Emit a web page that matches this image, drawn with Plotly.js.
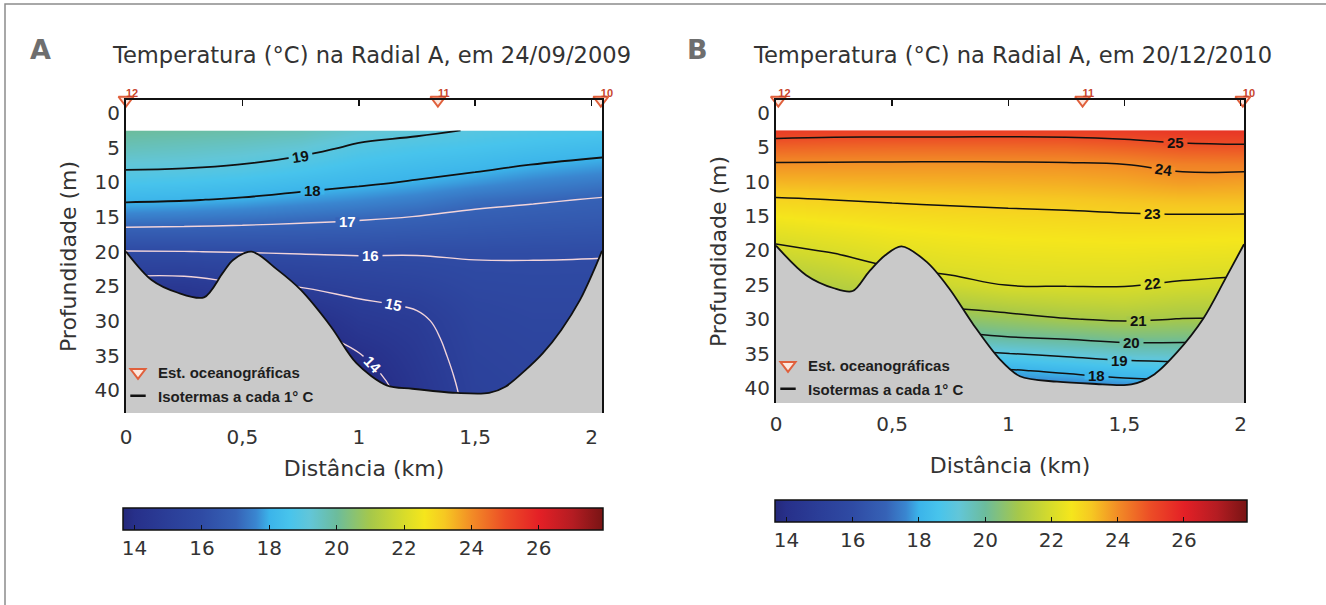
<!DOCTYPE html>
<html><head><meta charset="utf-8">
<script src="https://cdn.plot.ly/plotly-3.0.1.min.js"></script>
<style>html,body{margin:0;padding:0;background:#fff}</style>
</head><body><div id="chart" style="width:1326px;height:605px"></div>
<script>
// ---------------- DATA ----------------
const gridDistKm = [0, 0.25, 0.5, 0.75, 1.0, 1.25, 1.5, 1.75, 2.05];
const gridDepthM = [2.5, 5, 7.5, 10, 12.5, 15, 17.5, 20, 22.5, 25, 27.5, 30, 32.5, 35, 37.5, 40, 43.5];

// Temperature (°C), rows = depth, columns = distance  — panel A, 24/09/2009
const tempA = [
  [20.0, 19.9, 19.8, 19.65, 19.3, 19.15, 18.95, 18.8, 18.7],
  [19.6, 19.5, 19.39, 19.23, 18.88, 18.7, 18.57, 18.42, 18.25],
  [19.14, 19.1, 18.98, 18.75, 18.49, 18.32, 18.18, 17.98, 17.8],
  [18.64, 18.57, 18.46, 18.28, 18.11, 17.94, 17.74, 17.54, 17.36],
  [18.1, 18.04, 17.93, 17.77, 17.63, 17.46, 17.21, 17.09, 16.94],
  [17.43, 17.38, 17.3, 17.2, 17.1, 16.98, 16.83, 16.73, 16.65],
  [16.7, 16.69, 16.67, 16.64, 16.6, 16.53, 16.47, 16.4, 16.35],
  [15.97, 15.99, 16.03, 16.07, 16.1, 16.07, 16.09, 16.08, 16.06],
  [15.3, 15.29, 15.45, 15.54, 15.67, 15.75, 15.9, 15.92, 15.9],
  [14.6, 14.6, 14.9, 15.02, 15.26, 15.43, 15.75, 15.8, 15.8],
  [14.05, 14.1, 14.4, 14.45, 14.9, 15.1, 15.6, 15.7, 15.7],
  [13.5, 13.7, 14.03, 13.9, 14.62, 14.85, 15.5, 15.62, 15.62],
  [13.2, 13.4, 13.7, 13.6, 14.3, 14.72, 15.42, 15.55, 15.55],
  [13.03, 13.2, 13.5, 13.4, 13.95, 14.62, 15.36, 15.5, 15.5],
  [12.9, 13.03, 13.3, 13.2, 13.7, 14.52, 15.3, 15.45, 15.45],
  [12.8, 12.9, 13.1, 13.1, 13.45, 14.42, 15.25, 15.4, 15.4],
  [12.7, 12.8, 13.03, 13.03, 13.2, 14.3, 15.2, 15.35, 15.35]
];

// Temperature (°C) — panel B, 20/12/2010
const tempB = [
  [25.35, 25.3, 25.3, 25.3, 25.28, 25.3, 25.35, 25.45, 25.5],
  [24.62, 24.57, 24.54, 24.53, 24.54, 24.56, 24.68, 24.84, 24.89],
  [23.92, 23.91, 23.9, 23.89, 23.9, 23.92, 23.99, 24.16, 24.19],
  [23.43, 23.46, 23.48, 23.5, 23.52, 23.55, 23.63, 23.78, 23.71],
  [22.96, 23.02, 23.07, 23.11, 23.15, 23.19, 23.26, 23.32, 23.32],
  [22.6, 22.7, 22.78, 22.83, 22.87, 22.9, 22.94, 22.96, 22.95],
  [22.23, 22.38, 22.52, 22.6, 22.66, 22.68, 22.71, 22.71, 22.68],
  [21.86, 22.06, 22.26, 22.38, 22.44, 22.47, 22.49, 22.46, 22.42],
  [21.47, 21.69, 21.99, 22.15, 22.23, 22.26, 22.27, 22.21, 22.16],
  [21.08, 21.31, 21.55, 21.8, 22.02, 22.04, 22.04, 21.93, 21.83],
  [20.6, 20.88, 21.09, 21.23, 21.43, 21.55, 21.61, 21.46, 21.4],
  [19.99, 20.25, 20.43, 20.57, 20.76, 20.97, 21.08, 20.98, 20.97],
  [19.17, 19.5, 19.6, 19.8, 20.03, 20.16, 20.32, 20.29, 20.27],
  [18.33, 18.67, 18.6, 18.78, 18.99, 19.2, 19.42, 19.48, 19.48],
  [17.8, 17.9, 17.9, 17.85, 17.92, 18.13, 18.36, 18.48, 18.48],
  [17.5, 17.6, 17.6, 17.5, 17.4, 17.35, 17.5, 17.6, 17.6],
  [17.2, 17.3, 17.3, 17.2, 17.2, 17.2, 17.2, 17.3, 17.3]
];

// Sea-floor profile (depth in m along the section)
const bathyDistA  = [0, 0.11, 0.22, 0.335, 0.415, 0.46, 0.54, 0.65, 0.75, 0.88, 0.99, 1.12, 1.23, 1.42, 1.56, 1.63, 1.71, 1.79, 1.87, 1.95, 2.01, 2.045];
const bathyDepthA = [20, 24.1, 25.9, 26.6, 23.1, 21.2, 20, 22.6, 25.5, 30.8, 36.1, 39.3, 39.8, 40.4, 40.4, 39.5, 37.3, 34.7, 31.3, 27, 22.7, 19.9];
const bathyDistB  = [0, 0.13, 0.25, 0.33, 0.40, 0.47, 0.54, 0.65, 0.745, 0.85, 0.96, 1.05, 1.21, 1.36, 1.53, 1.63, 1.73, 1.84, 1.935, 2.015];
const bathyDepthB = [19.3, 23.6, 25.5, 25.9, 23.1, 20.7, 19.4, 21.7, 25.5, 30.8, 35.7, 38.3, 39.1, 39.4, 39.5, 38.0, 34.7, 29.9, 24.1, 19.1];

// Oceanographic stations
const stationNames = ['12', '11', '10'];
const stationKmA = [0, 1.34, 2.04];
const stationKmB = [0.01, 1.32, 2.01];

// Isotherm levels that carry a label
const labelLevelsA = [19, 18, 17, 16, 15, 14];
const labelLevelsB = [25, 24, 23, 22, 21, 20, 19, 18];

// Ticks and texts
const distTicks = [0, 0.5, 1, 1.5, 2];
const depthTicks = [0, 5, 10, 15, 20, 25, 30, 35, 40];
const cbTicks = [14, 16, 18, 20, 22, 24, 26];
const titleA = 'Temperatura (°C) na Radial A, em 24/09/2009';
const titleB = 'Temperatura (°C) na Radial A, em 20/12/2010';

// ---------------- STYLE / LAYOUT ----------------
const W = 1326, H = 605;
const zMin = 13.65, zMax = 27.9;
const colorStops = [
  [13.65, '#24287a'], [14.0, '#27308a'], [15.0, '#2b3e98'], [16.0, '#2f4ba4'],
  [17.0, '#3662b6'], [17.6, '#3a86d0'], [18.0, '#3bb4ea'], [18.6, '#48c4ec'],
  [19.2, '#62c6d8'], [20.0, '#6cbc9c'], [21.0, '#a6c84a'], [22.0, '#d8dc2a'],
  [22.6, '#f5e61c'], [23.2, '#f6c822'], [24.0, '#f28c26'], [25.0, '#ec4c26'],
  [26.0, '#e42026'], [27.0, '#b41c22'], [27.9, '#781414']
];
const colorscale = colorStops.map(s => [Math.min(1, Math.max(0, (s[0] - zMin) / (zMax - zMin))), s[1]]);
function hexToRgb(h) { return [1, 3, 5].map(i => parseInt(h.substr(i, 2), 16)); }
function colorAt(v) {
  for (let i = 0; i < colorStops.length - 1; i++) {
    const a = colorStops[i], b = colorStops[i + 1];
    if (v >= a[0] && v <= b[0]) {
      const f = (v - a[0]) / (b[0] - a[0]);
      const ca = hexToRgb(a[1]), cb = hexToRgb(b[1]);
      return 'rgb(' + ca.map((c, k) => Math.round(c + (cb[k] - c) * f)).join(',') + ')';
    }
  }
  return colorStops[colorStops.length - 1][1];
}
// depth at which an isotherm crosses a given distance (linear interpolation in the grid)
function levelDepth(temp, xKm, level) {
  let j = 0;
  while (j < gridDistKm.length - 2 && gridDistKm[j + 1] < xKm) j++;
  const w = (xKm - gridDistKm[j]) / (gridDistKm[j + 1] - gridDistKm[j]);
  const prof = temp.map(r => r[j] * (1 - w) + r[j + 1] * w);
  for (let i = 0; i < prof.length - 1; i++) {
    const a = prof[i] - level, b = prof[i + 1] - level;
    if ((a >= 0 && b < 0) || (a <= 0 && b > 0)) return gridDepthM[i] + a / (a - b) * (gridDepthM[i + 1] - gridDepthM[i]);
  }
  return null;
}

const FONT = 'DejaVu Sans';
const yRangeA = [43.3, -1.9], yRangeB = [42.2, -1.9];
const xRangeA = [0, 2.045], xRangeB = [0, 2.015];
const domXA = [126, 602], domYA = [100, 413];
const domXB = [776, 1244], domYB = [100, 403];

function panel(p) {
  const t = [];
  t.push({type: 'contour', x: gridDistKm, y: gridDepthM, z: p.temp, xaxis: p.xa, yaxis: p.ya,
    zmin: zMin, zmax: zMax, colorscale: colorscale, autocontour: false, showlegend: false,
    contours: {start: 14, end: 26, size: 1, coloring: 'heatmap', showlines: false},
    line: {width: 0}, showscale: true, hoverinfo: 'skip',
    colorbar: {orientation: 'h', x: p.cbX, xanchor: 'center', y: p.cbY, yanchor: 'top',
      len: p.cbLen, lenmode: 'pixels', thickness: 22, thicknessmode: 'pixels',
      outlinecolor: '#111', outlinewidth: 1.5, tickvals: cbTicks, ticks: 'inside', ticklen: 5,
      tickcolor: '#111', tickfont: {family: FONT, size: 20, color: '#333'}, xpad: 0, ypad: 0}
  });
  p.lines.forEach(l => t.push({type: 'contour', x: gridDistKm, y: gridDepthM, z: p.temp, xaxis: p.xa, yaxis: p.ya,
    autocontour: false, showscale: false, showlegend: false, hoverinfo: 'skip',
    contours: {start: l.start, end: l.end, size: 1, coloring: 'none', showlabels: false},
    line: {color: l.color, width: l.width, smoothing: 1.2}
  }));
  const n = p.bx.length;
  t.push({type: 'scatter', mode: 'lines', x: [p.bx[0], p.bx[n - 1]], y: [p.yr[0], p.yr[0]],
    xaxis: p.xa, yaxis: p.ya, line: {width: 0}, showlegend: false, hoverinfo: 'skip'});
  t.push({type: 'scatter', mode: 'lines', x: p.bx, y: p.by, xaxis: p.xa, yaxis: p.ya,
    fill: 'tonexty', fillcolor: '#c9c9c9', line: {color: '#111', width: 1.8, shape: 'spline', smoothing: 0.9},
    showlegend: false, hoverinfo: 'skip'});
  t.push({type: 'scatter', mode: 'markers', x: p.st, y: p.st.map(() => p.yr[1]), xaxis: p.xt, yaxis: p.ya,
    name: 'Est. oceanográficas', legend: p.lg, legendgroup: 'st' + p.lg, cliponaxis: false,
    marker: {symbol: 'triangle-down', size: 13, color: '#fde8df', line: {color: '#e0603c', width: 2}}});
  t.push({type: 'scatter', mode: 'text', x: p.st, y: p.st.map(() => p.yr[1]), xaxis: p.xt, yaxis: p.ya,
    text: stationNames, textposition: 'top right', cliponaxis: false, showlegend: false, hoverinfo: 'skip',
    textfont: {family: 'Liberation Sans', size: 11, color: '#c8452c', weight: 'bold'}});
  t.push({type: 'scatter', mode: 'markers', x: [null], y: [null], xaxis: p.xt, yaxis: p.ya,
    name: 'Isotermas a cada 1° C', legend: p.lg, legendgroup: 'iso' + p.lg,
    marker: {symbol: 'line-ew', size: 11, line: {color: '#111', width: 2.5}}});
  return t;
}

// isotherm labels: a thin mask that cuts the line, then the number on top
function labels(p) {
  const pxKm = (p.dx[1] - p.dx[0]) / (p.xr[1] - p.xr[0]);
  const pxM = (p.dy[1] - p.dy[0]) / (p.yr[0] - p.yr[1]);
  const out = [];
  p.levels.forEach((lv, i) => {
    const km = p.labelKm[i];
    const d = levelDepth(p.temp, km, lv);
    const d1 = levelDepth(p.temp, km - 0.04, lv), d2 = levelDepth(p.temp, km + 0.04, lv);
    let ang = Math.atan2((d2 - d1) * pxM, 0.08 * pxKm) * 180 / Math.PI;
    if (Math.abs(ang) < 6) ang = 0;
    out.push({x: km, y: d, xref: p.xa, yref: p.ya, text: '.', showarrow: false, textangle: ang,
      width: 23, height: 6, bgcolor: colorAt(lv), borderpad: 0, xanchor: 'center', yanchor: 'middle',
      font: {size: 6, color: 'rgba(0,0,0,0)'}});
    out.push({x: km, y: d, xref: p.xa, yref: p.ya, text: String(lv), showarrow: false, textangle: ang,
      borderpad: 0, xanchor: 'center', yanchor: 'middle',
      font: {family: 'Liberation Sans', size: 15, color: lv >= p.whiteBelow ? '#111' : '#ffffff', weight: 'bold'}});
  });
  return out;
}

const data = [].concat(
  panel({temp: tempA, xa: 'x', ya: 'y', xt: 'x3', yr: yRangeA, bx: bathyDistA, by: bathyDepthA, st: stationKmA, lg: 'legend',
    cbX: 362.8 / W, cbY: 1 - 508 / H, cbLen: 480,
    lines: [{start: 18, end: 19, color: '#111', width: 1.8},
            {start: 14, end: 17, color: '#f2d4da', width: 1.4}]}),
  panel({temp: tempB, xa: 'x2', ya: 'y2', xt: 'x4', yr: yRangeB, bx: bathyDistB, by: bathyDepthB, st: stationKmB, lg: 'legend2',
    cbX: 1010.8 / W, cbY: 1 - 500 / H, cbLen: 472,
    lines: [{start: 18, end: 25, color: '#111', width: 1.5}]})
);

function xAxis(dom, rng, std, tstd) {
  return {domain: [dom[0] / W, dom[1] / W], range: rng, tickvals: distTicks, ticks: '', showline: false, showgrid: false, zeroline: false,
    tickfont: {family: FONT, size: 20, color: '#333'}, ticklabelstandoff: std,
    title: {text: 'Distância (km)', font: {family: FONT, size: 22, color: '#333'}, standoff: tstd}};
}
function topAxis(over, anchor, rng) {
  return {overlaying: over, anchor: anchor, side: 'top', range: rng, tickvals: distTicks, ticks: 'inside',
    ticklen: 6, tickwidth: 1.5, tickcolor: '#111', showline: true, linecolor: '#111', linewidth: 2,
    showticklabels: false, showgrid: false, zeroline: false};
}
function yAxis(dom, rng, anchor) {
  return {domain: [1 - dom[1] / H, 1 - dom[0] / H], range: rng, anchor: anchor, tickvals: depthTicks, ticks: '', showline: true, mirror: true,
    linecolor: '#111', linewidth: 2, showgrid: false, zeroline: false,
    tickfont: {family: FONT, size: 20, color: '#333'},
    title: {text: 'Profundidade (m)', font: {family: FONT, size: 22, color: '#333'}, standoff: 12}};
}
const legendStyle = {xanchor: 'left', yanchor: 'top', bgcolor: 'rgba(0,0,0,0)', traceorder: 'grouped',
  tracegroupgap: 1, itemwidth: 30, font: {family: 'Liberation Sans', size: 15, color: '#1e1e1e', weight: 'bold'}};

const annotations = [
  {text: 'A', x: 40 / W, y: 1 - 50 / H, xref: 'paper', yref: 'paper', xanchor: 'center', yanchor: 'middle', showarrow: false,
    font: {family: FONT, size: 27, color: '#6e6e6e', weight: 'bold'}},
  {text: titleA, x: 110 / W, y: 1 - 55 / H, xref: 'paper', yref: 'paper', xanchor: 'left', yanchor: 'middle', showarrow: false,
    font: {family: FONT, size: 22.6, color: '#333'}},
  {text: 'B', x: 697 / W, y: 1 - 50 / H, xref: 'paper', yref: 'paper', xanchor: 'center', yanchor: 'middle', showarrow: false,
    font: {family: FONT, size: 27, color: '#6e6e6e', weight: 'bold'}},
  {text: titleB, x: 751 / W, y: 1 - 55 / H, xref: 'paper', yref: 'paper', xanchor: 'left', yanchor: 'middle', showarrow: false,
    font: {family: FONT, size: 22.6, color: '#333'}}
].concat(
  labels({temp: tempA, levels: labelLevelsA, labelKm: [0.75, 0.80, 0.95, 1.05, 1.15, 1.06], xa: 'x', ya: 'y',
    dx: domXA, dy: domYA, xr: xRangeA, yr: yRangeA, whiteBelow: 18}),
  labels({temp: tempB, levels: labelLevelsB, labelKm: [1.72, 1.67, 1.62, 1.62, 1.56, 1.53, 1.48, 1.38], xa: 'x2', ya: 'y2',
    dx: domXB, dy: domYB, xr: xRangeB, yr: yRangeB, whiteBelow: 0})
);

const layout = {
  width: W, height: H, margin: {l: 0, r: 0, t: 0, b: 0}, paper_bgcolor: '#fff', plot_bgcolor: 'rgba(0,0,0,0)',
  separators: ',.', font: {family: FONT, color: '#333'}, showlegend: true,
  xaxis: Object.assign(xAxis(domXA, xRangeA, 10, 12), {anchor: 'y'}),
  yaxis: yAxis(domYA, yRangeA, 'x'),
  xaxis3: topAxis('x', 'y', xRangeA),
  xaxis2: Object.assign(xAxis(domXB, xRangeB, 7, 22), {anchor: 'y2'}),
  yaxis2: yAxis(domYB, yRangeB, 'x2'),
  xaxis4: topAxis('x2', 'y2', xRangeB),
  legend: Object.assign({x: 118 / W, y: 1 - 356 / H}, legendStyle),
  legend2: Object.assign({x: 768 / W, y: 1 - 349 / H}, legendStyle),
  annotations: annotations,
  shapes: [
    {type: 'path', xref: 'paper', yref: 'paper', path: 'M ' + (5 / W) + ' 0 L ' + (5 / W) + ' ' + (1 - 4 / H) + ' L 1 ' + (1 - 4 / H),
      line: {color: '#8c8c8c', width: 1.5}}
  ]
};

Plotly.newPlot('chart', data, layout, {displayModeBar: false, staticPlot: true});
</script></body></html>
